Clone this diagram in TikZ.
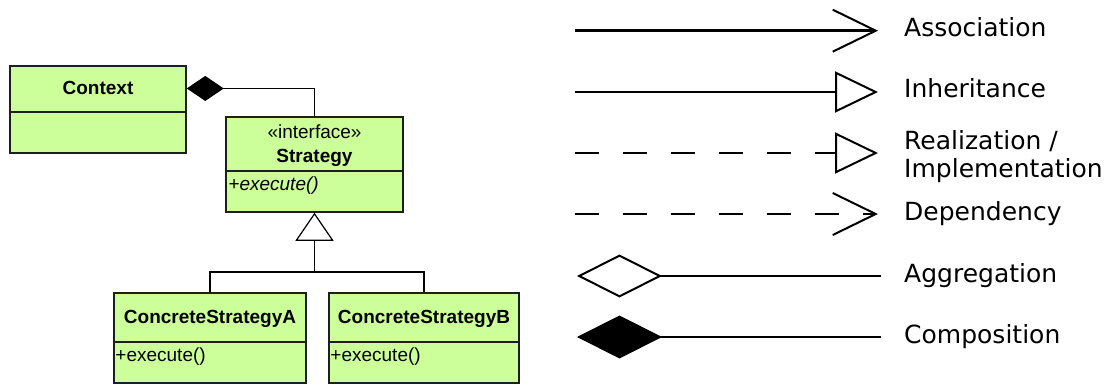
\documentclass[tikz,border=0pt]{standalone}
\usepackage{fontspec}
\setmainfont{Liberation Sans}
\newfontfamily\legendfont{DejaVu Sans}
\usetikzlibrary{arrows.meta}
\definecolor{umlgreen}{RGB}{204,255,153}
\definecolor{umlborder}{RGB}{30,30,30}
\begin{document}
\begin{tikzpicture}[x=1pt,y=-1pt,
  umlbox/.style={draw=umlborder, line width=1.5pt, fill=umlgreen, rectangle, inner sep=0pt},
  umldiv/.style={draw=umlborder, line width=1.5pt},
  umltext/.style={inner sep=0pt, anchor=base, font=\fontsize{19}{22}\selectfont},
  umlname/.style={umltext, font=\fontsize{19}{22}\selectfont\bfseries},
  umlop/.style={umltext, anchor=base west},
  umlline/.style={draw=black, line width=1.2pt},
  legline/.style={draw=black, line width=2.6pt},
  legdash/.style={legline, dash pattern=on 24pt off 24pt},
  openbarb/.style={-{Straight Barb[length=43pt, width=42pt, line width=2pt]}},
  opentri/.style={-{Triangle[length=43pt, width=41pt, fill=white, line width=2pt]}},
  legtext/.style={inner sep=0pt, anchor=base west, font=\legendfont\fontsize{25}{28}\selectfont},
]
\useasboundingbox (0,0) rectangle (1110,385);

% ---------- UML classes ----------
\node[umlbox, minimum width=176pt, minimum height=87pt] (context) at (98,109.5) {};
\draw[umldiv] (context.west |- 0,112) -- (context.east |- 0,112);
\node[umlname] (ctxname) at (98,95) {Context};

\node[umlbox, minimum width=177pt, minimum height=95pt] (strategy) at (314.5,164.5) {};
\draw[umldiv] (strategy.west |- 0,171) -- (strategy.east |- 0,171);
\node[umltext] (stereo) at (314.5,138.5) {«interface»};
\node[umlname] (stratname) at (314.5,162) {Strategy};
\node[umlop, font=\fontsize{19}{22}\selectfont\itshape, xshift=3pt] (stratop) at (strategy.west |- 0,190) {+execute()};

\node[umlbox, minimum width=192pt, minimum height=90pt] (csa) at (210,338) {};
\draw[umldiv] (csa.west |- 0,342) -- (csa.east |- 0,342);
\node[umlname] (csaname) at (210,323) {ConcreteStrategyA};
\node[umlop, xshift=2pt] (csaop) at (csa.west |- 0,361) {+execute()};

\node[umlbox, minimum width=190pt, minimum height=90pt] (csb) at (424,338) {};
\draw[umldiv] (csb.west |- 0,342) -- (csb.east |- 0,342);
\node[umlname] (csbname) at (424,323) {ConcreteStrategyB};
\node[umlop, xshift=2pt] (csbop) at (csb.west |- 0,361) {+execute()};

% ---------- UML connectors ----------
\draw[umlline, {Diamond[length=37pt, width=25pt, fill=black]}-] (context.east |- ctxname.center) -| (strategy.north);
\coordinate (join) at (strategy.south |- 0,272);
\draw[umlline, -{Triangle[length=28pt, width=38pt, fill=white]}] (join) -- (strategy.south);
\draw[umlline] (csa.north) |- (join) -| (csb.north);

% ---------- Legend ----------
\coordinate (as0) at (575,30.7);  \coordinate (as1) at (878,30.7);
\coordinate (in0) at (575,92);    \coordinate (in1) at (878,92);
\coordinate (re0) at (575,153);   \coordinate (re1) at (878,153);
\coordinate (de0) at (575,214);   \coordinate (de1) at (878,214);
\coordinate (ag0) at (577,276);   \coordinate (ag1) at (881,276);
\coordinate (co0) at (577,337);   \coordinate (co1) at (881,337);

\draw[legline, openbarb] (as0) -- (as1);
\draw[legline, opentri] (in0) -- (in1);
\draw[legdash, opentri] (re0) -- (re1);
\draw[legdash, openbarb] (de0) -- (de1);
\draw[legline, {Diamond[length=85pt, width=43pt, fill=white, line width=2pt]}-] (ag0) -- (ag1);
\draw[legline, {Diamond[length=85pt, width=43pt, fill=black, line width=2pt]}-] (co0) -- (co1);

\node[legtext] (lasso) at (904,37) {Association};
\node[legtext] (linh)  at (904,98) {Inheritance};
\node[legtext] (lreal) at (904,149) {Realization /};
\node[legtext] (limpl) at (904,177) {Implementation};
\node[legtext] (ldep)  at (904,220) {Dependency};
\node[legtext] (lagg)  at (904,282) {Aggregation};
\node[legtext] (lcomp) at (904,343) {Composition};
\end{tikzpicture}
\end{document}
